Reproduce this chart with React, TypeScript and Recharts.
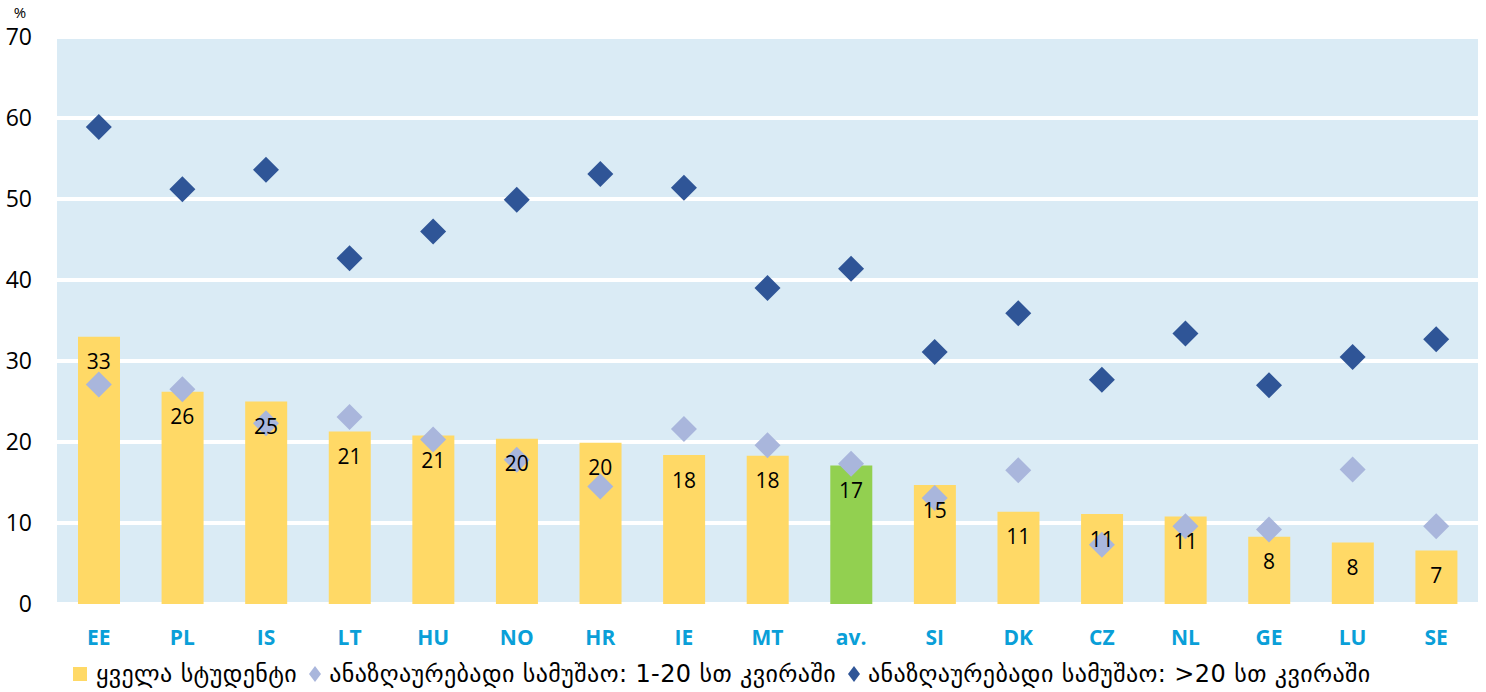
import { Bar, CartesianGrid, Cell, ComposedChart, Scatter, XAxis, YAxis } from "recharts";

const countries = ["EE", "PL", "IS", "LT", "HU", "NO", "HR", "IE", "MT", "av.", "SI", "DK", "CZ", "NL", "GE", "LU", "SE"];
const allStudents = [33.0, 26.2, 25.0, 21.3, 20.8, 20.4, 19.9, 18.4, 18.3, 17.1, 14.7, 11.4, 11.1, 10.8, 8.3, 7.6, 6.6];
const paidUpTo20 = [27.1, 26.5, 22.3, 23.1, 20.3, 17.8, 14.5, 21.6, 19.6, 17.3, 13.1, 16.5, 7.3, 9.6, 9.2, 16.6, 9.6];
const paidOver20 = [58.9, 51.2, 53.6, 42.7, 46.0, 49.9, 53.1, 51.4, 39.0, 41.4, 31.1, 35.9, 27.7, 33.4, 27.0, 30.5, 32.7];
const yTicks = [0, 10, 20, 30, 40, 50, 60, 70];

const legendNames = [
  "ყველა სტუდენტი",
  "ანაზღაურებადი სამუშაო: 1-20 სთ კვირაში",
  "ანაზღაურებადი სამუშაო: >20 სთ კვირაში",
];

const YELLOW = "#FFD966";
const GREEN = "#92D050";
const LIGHT = "#A9B6DC";
const DARK = "#2F5597";

const data = countries.map((c, i) => ({
  country: c,
  all: allStudents[i],
  part: paidUpTo20[i],
  full: paidOver20[i],
}));

const font = "'Open Sans', 'Noto Sans', sans-serif";

function diamond(color: string) {
  return (props: any) => {
    const { cx, cy } = props;
    const r = 13;
    return (
      <polygon
        points={`${cx},${cy - r} ${cx + r},${cy} ${cx},${cy + r} ${cx - r},${cy}`}
        fill={color}
      />
    );
  };
}

function valueLabel(props: any) {
  const { cx, cy, payload } = props;
  return (
    <text x={cx} y={cy + 27} textAnchor="middle" dominantBaseline="middle" fontSize={21} fontFamily={font} fill="#000">
      {Math.round(payload.all)}
    </text>
  );
}

function Pct() {
  return (
    <text x={20} y={18} textAnchor="middle" fontSize={15} fontFamily={font} fill="#000">
      %
    </text>
  );
}

function LegendMark({ kind }: { kind: number }) {
  if (kind === 0) {
    return <span style={{ display: "inline-block", width: 14, height: 14, background: YELLOW, marginRight: 9 }} />;
  }
  return (
    <svg width={12} height={16} style={{ marginRight: 8 }}>
      <polygon points="6,0 12,8 6,16 0,8" fill={kind === 1 ? LIGHT : DARK} />
    </svg>
  );
}

export default function App() {
  return (
    <div style={{ position: "relative", width: 1486, height: 692 }}>
      <style>{`body{margin:0}`}</style>
      <ComposedChart width={1486} height={692} data={data} margin={{ top: 37, right: 8, left: 0, bottom: 58 }}>
        <CartesianGrid vertical={false} fill="#DAEBF5" stroke="#FFFFFF" strokeWidth={4} />
        <XAxis
          dataKey="country"
          height={30}
          axisLine={false}
          tickLine={false}
          tickMargin={20}
          interval={0}
          tick={{ fill: "#0A9FD8", fontSize: 21, fontWeight: 700, fontFamily: font }}
        />
        <YAxis
          width={57}
          domain={[0, 70]}
          ticks={yTicks}
          axisLine={false}
          tickLine={false}
          tickMargin={19}
          tick={{ fill: "#000", fontSize: 23, fontFamily: font }}
          label={<Pct />}
        />
        <Bar dataKey="all" barSize={42} isAnimationActive={false}>
          {data.map((d) => (
            <Cell key={d.country} fill={d.country === "av." ? GREEN : YELLOW} />
          ))}
        </Bar>
        <Scatter dataKey="part" shape={diamond(LIGHT)} isAnimationActive={false} />
        <Scatter dataKey="full" shape={diamond(DARK)} isAnimationActive={false} />
        <Scatter dataKey="all" shape={valueLabel} isAnimationActive={false} />
      </ComposedChart>
      <div
        style={{
          position: "absolute",
          left: 73,
          top: 660,
          display: "flex",
          alignItems: "center",
          fontFamily: "'DejaVu Sans', sans-serif",
          fontSize: 24,
          letterSpacing: 0.4,
          color: "#000",
          whiteSpace: "nowrap",
        }}
      >
        {legendNames.map((name, i) => (
          <span key={name} style={{ display: "flex", alignItems: "center", marginRight: 12 }}>
            <LegendMark kind={i} />
            {name}
          </span>
        ))}
      </div>
    </div>
  );
}
